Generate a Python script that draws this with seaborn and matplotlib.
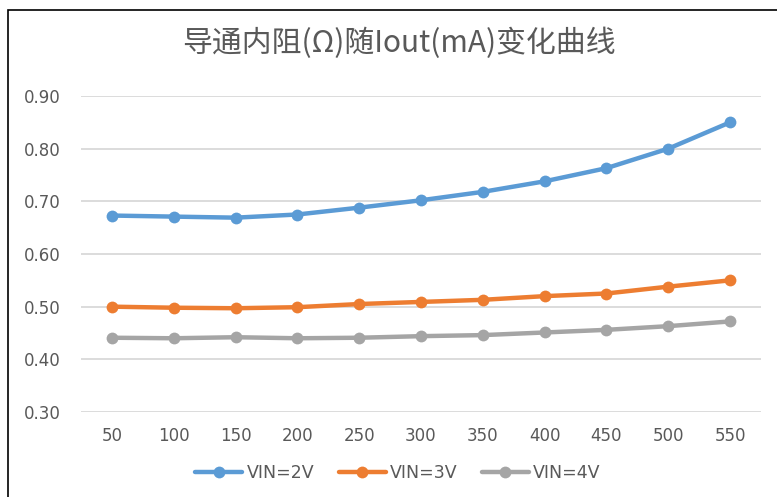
import matplotlib
matplotlib.use('Agg')
import matplotlib.pyplot as plt
import pandas as pd
import seaborn as sns
from matplotlib.patches import Rectangle

# data
iout = [50, 100, 150, 200, 250, 300, 350, 400, 450, 500, 550]
vin_2v = [0.673, 0.671, 0.669, 0.675, 0.688, 0.702, 0.718, 0.738, 0.763, 0.800, 0.850]
vin_3v = [0.500, 0.498, 0.497, 0.499, 0.505, 0.509, 0.513, 0.520, 0.525, 0.538, 0.550]
vin_4v = [0.441, 0.440, 0.442, 0.440, 0.441, 0.444, 0.446, 0.451, 0.456, 0.463, 0.472]
series = ['VIN=2V', 'VIN=3V', 'VIN=4V']
colors = ['#5B9BD5', '#ED7D31', '#A5A5A5']
yticks = [0.30, 0.40, 0.50, 0.60, 0.70, 0.80, 0.90]

df = pd.DataFrame({
    'Iout': iout * 3,
    'R': vin_2v + vin_3v + vin_4v,
    'VIN': [s for s in series for _ in iout],
})

sns.set_style('white')
plt.rcParams['font.family'] = ['Noto Sans CJK SC', 'DejaVu Sans']
txt = '#595959'

fig = plt.figure(figsize=(7.77, 4.97), dpi=100)
ax = fig.add_axes([81 / 777, 85 / 497, 680 / 777, 316 / 497])

sns.lineplot(data=df, x='Iout', y='R', hue='VIN', palette=colors,
             marker='o', markersize=8.5, markeredgewidth=0, linewidth=3.2,
             ax=ax, legend=True)

ax.set_xlim(25, 575)
ax.set_ylim(0.30, 0.90)
ax.set_xticks(iout)
ax.set_xticklabels([str(v) for v in iout], fontfamily='DejaVu Sans')
ax.set_yticks(yticks)
ax.set_yticklabels([f'{v:.2f}' for v in yticks], fontfamily='DejaVu Sans')
ax.set_xlabel('')
ax.set_ylabel('')
for s in ax.spines.values():
    s.set_visible(False)
ax.grid(axis='y', color='#D9D9D9', linewidth=1.3)
ax.set_axisbelow(True)
ax.tick_params(length=0, labelsize=12, labelcolor=txt, pad=0)
ax.tick_params(axis='y', pad=14.5)
ax.tick_params(axis='x', pad=11)

fig.text(399 / 777, 1 - 43 / 497, '导通内阻(Ω)随Iout(mA)变化曲线', ha='center',
         va='center', fontsize=21.5, color=txt)

leg = ax.legend(loc='center', bbox_to_anchor=(398 / 777, 1 - 473 / 497),
                bbox_transform=fig.transFigure, ncol=3, frameon=False,
                handlelength=2.7, handletextpad=0.25, columnspacing=1.4,
                prop={'family': 'DejaVu Sans', 'size': 12.5})
for t in leg.get_texts():
    t.set_color(txt)

# outer chart border (partly cut by the screenshot)
fig.patches.append(Rectangle((8 / 777, -0.05), 1.1, 1.05 - 10 / 497,
                             transform=fig.transFigure, fill=False,
                             edgecolor='black', linewidth=1.2))

fig.savefig('out.png', dpi=100)
